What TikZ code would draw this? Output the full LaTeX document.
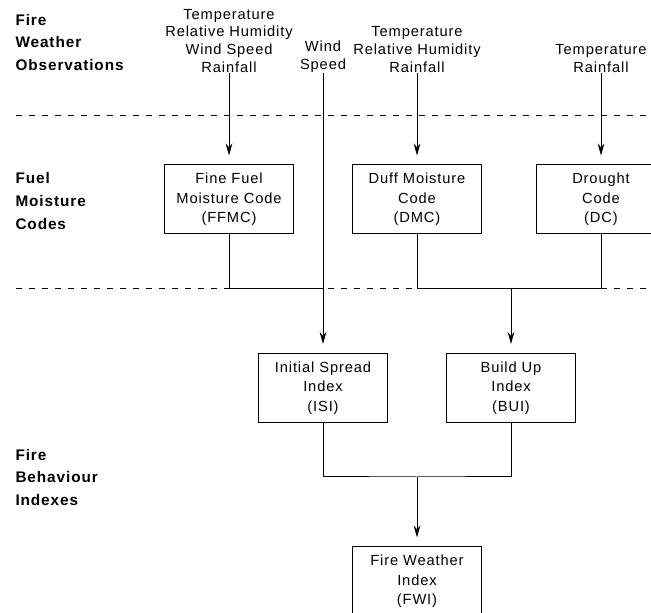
\documentclass[tikz,border=0pt]{standalone}
\usepackage{fontspec}
\setmainfont[LetterSpace=6]{Liberation Sans}
\usetikzlibrary{calc}
\usetikzlibrary{arrows.meta}

\begin{document}
\begin{tikzpicture}[x=0.75pt,y=-0.75pt,line width=0.75pt,>={Stealth[length=9pt,width=5pt]},
  codebox/.style={draw,minimum width=96.75pt,minimum height=51.75pt,align=center,inner sep=0pt,font=\fontsize{11}{14.5}\selectfont},
  obstext/.style={anchor=south,align=center,inner sep=0pt,font=\fontsize{11}{13.3}\selectfont},
  levellabel/.style={anchor=west,align=left,inner sep=0pt,font=\fontsize{11.5}{16.9}\selectfont\bfseries},
  divider/.style={dash pattern=on 4.5pt off 5.25pt}]
\useasboundingbox (0,0) rectangle (651,613);
\clip (0,0) rectangle (651,613);
% level labels
\node[levellabel] (lobs) at (15,42.5) {Fire\\Weather\\Observations};
\node[levellabel] (lfuel) at (15,201) {Fuel\\Moisture\\Codes};
\node[levellabel] (lbeh) at (15,477.5) {Fire\\Behaviour\\Indexes};
\draw[divider] (16,116) -- (651,116);
\draw[divider] (16,289) -- (651,289);
% observations
\node[obstext] (obsa) at (229,73) {Temperature\\Relative Humidity\\Wind Speed\\Rainfall};
\node[obstext] (wind) at (323,73) {Wind\\Speed};
\node[obstext] (obsb) at (417,73) {Temperature\\Relative Humidity\\Rainfall};
\node[obstext] (obsc) at (601,73) {Temperature\\Rainfall};
% codes and indexes
\node[codebox] (ffmc) at (229,199.5) {Fine Fuel\\Moisture Code\\(FFMC)};
\node[codebox] (dmc) at (417,199.5) {Duff Moisture\\Code\\(DMC)};
\node[codebox] (dc) at (601,199.5) {Drought\\Code\\(DC)};
\node[codebox] (isi) at (323,388) {Initial Spread\\Index\\(ISI)};
\node[codebox] (bui) at (511,388) {Build Up\\Index\\(BUI)};
\node[codebox] (fwi) at (417,581.5) {Fire Weather\\Index\\(FWI)};
\coordinate (ja) at (323,288.5);
\coordinate (jb) at (511,288.5);
\coordinate (jc) at (417,477);
\draw[->,shorten >=6.75pt] (obsa.south) -- (ffmc.north);
\draw[->,shorten >=6.75pt] (obsb.south) -- (dmc.north);
\draw[->,shorten >=6.75pt] (obsc.south) -- (dc.north);
\draw[->,shorten >=6.75pt] (wind.south) -- (isi.north);
\draw (ffmc.south) |- (ja);
\draw (dmc.south) |- (jb) -| (dc.south);
\draw[->,shorten >=6.75pt] (jb) -- (bui.north);
\draw (isi.south) |- (jc) -| (bui.south);
\draw[->,shorten >=6.75pt] (jc) -- (fwi.north);
\end{tikzpicture}
\end{document}
